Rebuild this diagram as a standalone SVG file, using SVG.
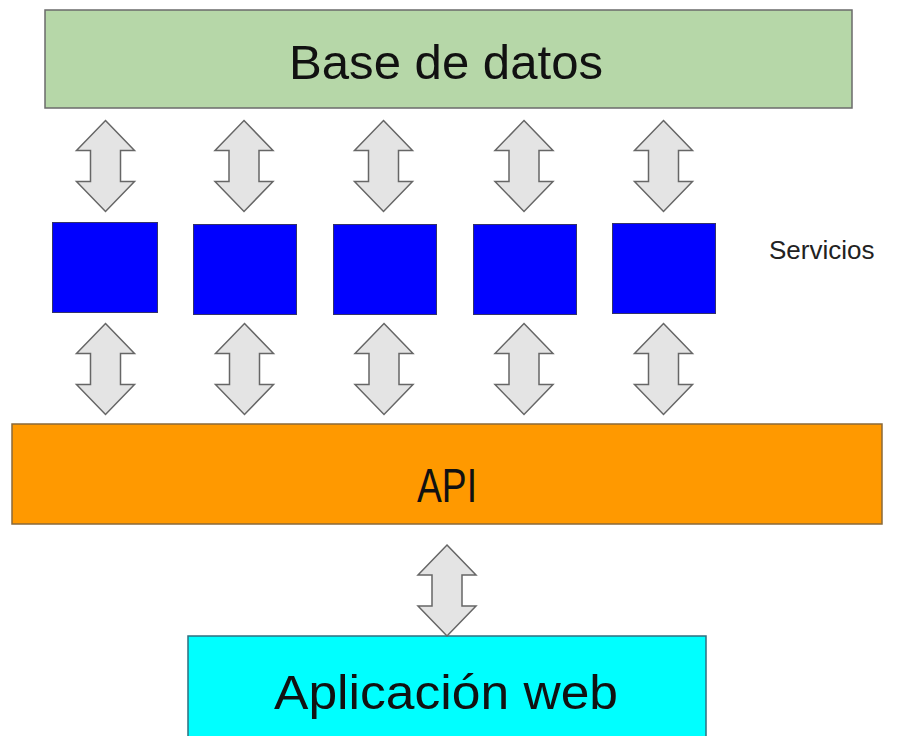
<svg xmlns="http://www.w3.org/2000/svg" xmlns:xlink="http://www.w3.org/1999/xlink" width="910" height="736" viewBox="0 0 910 736">
<style>
.big{font-family:"Liberation Sans",Arial,sans-serif;font-size:48px;fill:#111;text-anchor:middle}
.svc{fill:#0000ff;stroke:#33336a;stroke-width:1}
.arr{fill:#e4e4e4;stroke:#666;stroke-width:1.5;stroke-linejoin:miter}
</style>
<defs>
<path id="dbl" class="arr" d="M0,0 L29,30 L15,30 L15,61 L29,61 L0,91 L-29,61 L-15,61 L-15,30 L-29,30 Z"/>
</defs>
<rect width="910" height="736" fill="#fff"/>
<g id="base-de-datos">
<rect x="45" y="10" width="807" height="98" fill="#b6d7a8" stroke="#6b6b6b" stroke-width="1.5"/>
<text class="big" x="446" y="79" textLength="314" lengthAdjust="spacingAndGlyphs">Base de datos</text>
</g>
<g id="servicio-1"><rect class="svc" x="52.5" y="222.5" width="105" height="90"/></g>
<g id="servicio-2"><rect class="svc" x="193.5" y="224.5" width="103" height="90"/></g>
<g id="servicio-3"><rect class="svc" x="333.5" y="224.5" width="103" height="90"/></g>
<g id="servicio-4"><rect class="svc" x="473.5" y="224.5" width="103" height="90"/></g>
<g id="servicio-5"><rect class="svc" x="612.5" y="223.5" width="103" height="90"/></g>
<g id="servicios-label">
<text x="769" y="259" font-family="'Liberation Sans',Arial,sans-serif" font-size="26" fill="#222">Servicios</text>
</g>
<g id="api">
<rect x="12" y="424" width="870" height="100" fill="#ff9900" stroke="#8a6a3a" stroke-width="1.5"/>
<text class="big" x="447" y="502" textLength="60" lengthAdjust="spacingAndGlyphs">API</text>
</g>
<g id="aplicacion-web">
<rect x="188" y="636" width="518" height="110" fill="#00ffff" stroke="#2f6f7f" stroke-width="1.5"/>
<text class="big" x="446" y="709" textLength="344" lengthAdjust="spacingAndGlyphs">Aplicación web</text>
</g>
<g id="connectors">
<use xlink:href="#dbl" x="105.5" y="120.5"/>
<use xlink:href="#dbl" x="244" y="120.5"/>
<use xlink:href="#dbl" x="383.5" y="120.5"/>
<use xlink:href="#dbl" x="524" y="120.5"/>
<use xlink:href="#dbl" x="663.5" y="120.5"/>
<use xlink:href="#dbl" x="105.5" y="323.5"/>
<use xlink:href="#dbl" x="244.5" y="323.5"/>
<use xlink:href="#dbl" x="384" y="323.5"/>
<use xlink:href="#dbl" x="524" y="323.5"/>
<use xlink:href="#dbl" x="663.5" y="323.5"/>
<use xlink:href="#dbl" x="447" y="545"/>
</g>
</svg>
